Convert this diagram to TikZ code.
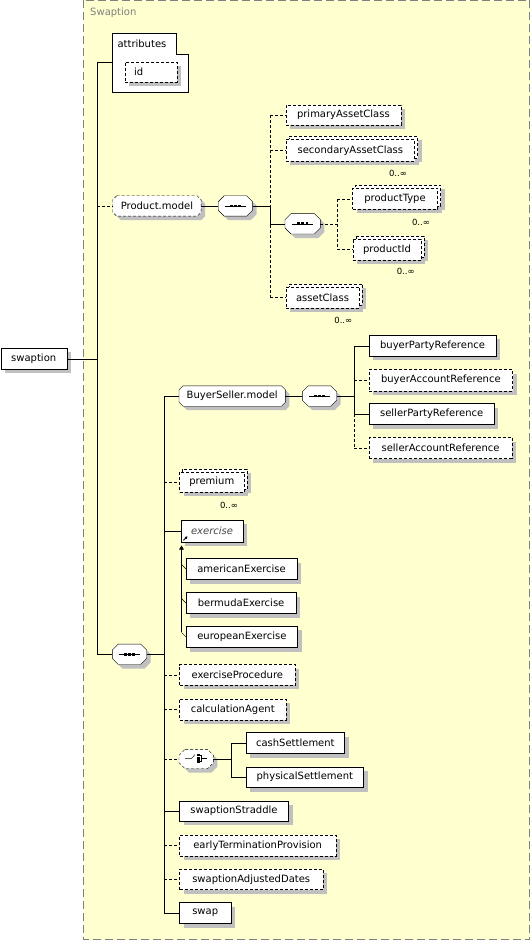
\documentclass[tikz,border=0pt]{standalone}
\usepackage{fontspec}
\setmainfont{DejaVu Sans}
\usetikzlibrary{arrows.meta}
\definecolor{panel}{RGB}{255,255,208}
\definecolor{shad}{RGB}{192,192,192}
\definecolor{frame}{RGB}{128,128,128}
\definecolor{abstr}{RGB}{70,70,70}
\pgfdeclarelayer{bg}
\pgfdeclarelayer{back}
\pgfsetlayers{bg,back,main}
\tikzset{
  txt/.style={font=\fontsize{10pt}{12pt}\selectfont},
  box/.style={draw, fill=white, inner sep=0pt, anchor=north west, txt},
  sh/.style={preaction={fill=shad, transform canvas={shift={(4pt,-4pt)}}}},
  msh/.style={preaction={fill=shad, transform canvas={shift={(4pt,-4pt)}}},
              preaction={fill=shad, transform canvas={shift={(7pt,-1pt)}}},
              preaction={draw, fill=white, dash pattern=on 3pt off 2pt, transform canvas={shift={(3pt,3pt)}}}},
  dpat/.style={dash pattern=on 3pt off 2pt},
  el/.style={box, sh},
  opt/.style={box, sh, dpat},
  mopt/.style={box, msh, dpat},
  sz/.style 2 args={minimum width=#1pt, minimum height=#2pt},
  grp/.style={txt, inner sep=0pt, anchor=center},
  occ/.style={font=\fontsize{8.5pt}{10pt}\selectfont, inner sep=0pt, anchor=center},
  dcon/.style={dpat},
}
% octagon outline behind a named node: name, chamfer, style
\newcommand\octpath[2]{([xshift=#2]#1.north west) -- ([xshift=-#2]#1.north east) -- ([yshift=-#2]#1.north east) -- ([yshift=#2]#1.south east) -- ([xshift=-#2]#1.south east) -- ([xshift=#2]#1.south west) -- ([yshift=#2]#1.south west) -- ([yshift=-#2]#1.north west) -- cycle}
\newcommand\octo[3]{%
  \begin{pgfonlayer}{back}
    \fill[shad, transform canvas={shift={(4pt,-4pt)}}] \octpath{#1}{#2};
    \draw[fill=white, #3] \octpath{#1}{#2};
  \end{pgfonlayer}}
\newcommand\seqsym[1]{%
  \draw ([xshift=-10.5pt]#1.center) -- ([xshift=10.5pt]#1.center);
  \foreach \d in {-4.2,0,4.2} \fill ([xshift=\d pt-1.4pt, yshift=-1.4pt]#1.center) rectangle ++(2.8pt,2.8pt);
}
\begin{document}
\begin{tikzpicture}[x=1pt,y=-1pt,line width=1pt]
\useasboundingbox (0,0) rectangle (530,941);
% panel
\begin{pgfonlayer}{bg}
\draw[frame, dash pattern=on 8pt off 4pt, fill=panel] (83.5,0.5) rectangle (529.5,939.5);
\end{pgfonlayer}
\node[txt, text=frame, anchor=west] (title) at (86.7,13) {Swaption};

% root
\node[el, sz={66}{21}] (swaption) at (0.5,348) {swaption};

% attributes
\draw[fill=white] (112,33) -- (176,33) -- (176,54) -- (188,54) -- (188,92) -- (112,92) -- cycle;
\node[txt, anchor=west] (attrT) at (114,43.5) {attributes};
\coordinate (attrL) at (112,62);
\node[opt, sz={52}{20}, text width=34pt, align=left, inner xsep=9pt] (id) at (125,62) {id};

% Product.model
\node[grp, sz={88}{20}] (pm) at (156.9,206) {Product.model};
\octo{pm}{4pt}{dpat}
\node[grp, sz={34}{20}] (seq1) at (235.4,206) {};
\octo{seq1}{6pt}{}
\seqsym{seq1}
\node[opt, sz={115}{20}] (pac) at (285.7,105) {primaryAssetClass};
\node[mopt, sz={128.3}{21.5}] (sac) at (286,139.3) {secondaryAssetClass};
\node[occ] (o1) at (398,173) {0..∞};
\node[grp, sz={35}{20}] (seq2) at (302.7,223.8) {};
\octo{seq2}{6pt}{}
\seqsym{seq2}
\node[mopt, sz={85}{21}] (pt) at (352.3,188.3) {productType};
\node[occ] (o2) at (421,222.3) {0..∞};
\node[mopt, sz={68.5}{21.5}] (pid) at (352.5,238.5) {productId};
\node[occ] (o3) at (405.7,271.7) {0..∞};
\node[mopt, sz={73.3}{21}] (ac) at (285.7,286.7) {assetClass};
\node[occ] (o4) at (343.3,320) {0..∞};

% BuyerSeller.model
\node[grp, sz={106}{20}] (bsm) at (232.2,396) {BuyerSeller.model};
\octo{bsm}{4pt}{}
\node[grp, sz={34}{20}] (seq3) at (319.5,396) {};
\octo{seq3}{6pt}{}
\seqsym{seq3}
\node[el, sz={126.7}{21}] (bpr) at (369,335) {buyerPartyReference};
\node[opt, sz={143.3}{21.4}] (bar) at (369,369.3) {buyerAccountReference};
\node[el, sz={125}{21}] (spr) at (369,403.3) {sellerPartyReference};
\node[opt, sz={142.7}{21}] (sar) at (369,437.3) {sellerAccountReference};

% second level
\node[mopt, sz={64.5}{20.5}] (prem) at (179.3,471.7) {premium};
\node[occ] (o5) at (229,505) {0..∞};
\node[el, sz={61.7}{21.7}, text=abstr, font=\fontsize{10pt}{12pt}\selectfont\itshape] (ex) at (181,520) {exercise};
\node[el, sz={110.7}{21}] (ame) at (186,558.3) {americanExercise};
\node[el, sz={109.7}{21}] (ber) at (186,592.3) {bermudaExercise};
\node[el, sz={111.3}{21.3}] (eue) at (186,626) {europeanExercise};
\node[grp, sz={34}{20}] (seq4) at (129.5,654.3) {};
\octo{seq4}{6pt}{}
\seqsym{seq4}
\node[opt, sz={115.7}{20.7}] (exp) at (179.3,664.3) {exerciseProcedure};
\node[opt, sz={106.4}{20.8}] (cag) at (179.3,698.7) {calculationAgent};
\node[grp, sz={34}{19}] (choice) at (196.2,759) {};
\octo{choice}{6pt}{dpat}
\node[el, sz={98.3}{21}] (cash) at (246,732.3) {cashSettlement};
\node[el, sz={117.3}{20.6}] (phys) at (246,766.7) {physicalSettlement};
\node[el, sz={109}{20.3}] (str) at (179.3,800.7) {swaptionStraddle};
\node[opt, sz={156.4}{20.7}] (etp) at (179.3,835) {earlyTerminationProvision};
\node[opt, sz={143.4}{20.3}] (sad) at (179.3,869) {swaptionAdjustedDates};
\node[el, sz={51.4}{21}] (swap) at (179.3,902.3) {swap};

% choice symbol
\begin{scope}[shift={(choice.center)}]
  \draw (-11,-0.7) -- (-4.5,-0.7) -- (-1.2,-4.5);
  \foreach \yy in {-4,-0.7,2.6} \fill (0.8,\yy-1.3) rectangle (3.4,\yy+1.3);
  \draw (2.1,-4) -- (4.8,-4) -- (4.8,2.6) -- (2.1,2.6);
  \draw (4.8,-0.7) -- (10.5,-0.7);
\end{scope}

% exercise icon
\draw[-{Triangle[length=2.5pt,width=2.8pt]}, line width=0.9pt] ([xshift=2.5pt,yshift=1.8pt]ex.south west) -- ++(4pt,4pt);

% ---- connectors: main trunk
\coordinate (tA) at (97,62);
\draw (tA) -- (tA |- seq4.west);
\draw (swaption.east) -- (swaption.east -| tA);
\draw (tA) -- (attrL);
\draw[dcon] (tA |- pm.west) -- (pm.west);
\draw (tA |- seq4.west) -- (seq4.west);

% Product.model branch
\draw (pm.east) -- (seq1.west);
\coordinate (b1) at (270,206);
\draw[dcon] (b1 |- pac.west) -- (b1 |- ac.west);
\draw (seq1.east) -- (b1) -- (b1 |- seq2.west) -- (seq2.west);
\draw[dcon] (b1 |- pac.west) -- (pac.west);
\draw[dcon] (b1 |- sac.west) -- (sac.west);
\draw[dcon] (b1 |- ac.west) -- (ac.west);
\coordinate (b2) at (337.3,223.8);
\draw[dcon] (seq2.east) -- (b2 |- seq2.east);
\draw[dcon] (b2 |- pt.west) -- (b2 |- pid.west);
\draw[dcon] (b2 |- pt.west) -- (pt.west);
\draw[dcon] (b2 |- pid.west) -- (pid.west);

% second trunk
\coordinate (t2) at (164.3,396);
\draw (seq4.east) -- (seq4.east -| t2);
\draw (t2) -- (t2 |- swap.west);
\draw (t2) -- (bsm.west);
\draw[dcon] (t2 |- prem.west) -- (prem.west);
\draw (t2 |- ex.west) -- (ex.west);
\draw[dcon] (t2 |- exp.west) -- (exp.west);
\draw[dcon] (t2 |- cag.west) -- (cag.west);
\draw[dcon] (t2 |- choice.west) -- (choice.west);
\draw (t2 |- str.west) -- (str.west);
\draw[dcon] (t2 |- etp.west) -- (etp.west);
\draw[dcon] (t2 |- sad.west) -- (sad.west);
\draw (t2 |- swap.west) -- (swap.west);

% BuyerSeller branch
\draw (bsm.east) -- (seq3.west);
\coordinate (b3) at (354.3,396);
\draw[dcon] (b3 |- spr.west) -- (b3 |- sar.west);
\draw (seq3.east) -- (b3);
\draw (b3 |- bpr.west) -- (b3 |- spr.west);
\draw (b3 |- bpr.west) -- (bpr.west);
\draw[dcon] (b3 |- bar.west) -- (bar.west);
\draw (b3 |- spr.west) -- (spr.west);
\draw[dcon] (b3 |- sar.west) -- (sar.west);

% substitution group of exercise
\coordinate (sa) at (181.5,545.5);
\coordinate (sb) at (181.5,631.5);
\draw[-{Triangle[length=4pt,width=4.5pt]}] (sb) -- (sa);
\draw ([xshift=-4.5pt,yshift=4.5pt]ame.west) -- (ame.west);
\draw ([xshift=-4.5pt,yshift=4.5pt]ber.west) -- (ber.west);
\draw ([xshift=-4.5pt,yshift=4.5pt]eue.west) -- (eue.west);

% choice branch
\coordinate (cx) at (231,759);
\draw (choice.east) -- (cx);
\draw (cx |- cash.west) -- (cx |- phys.west);
\draw (cx |- cash.west) -- (cash.west);
\draw (cx |- phys.west) -- (phys.west);
\end{tikzpicture}
\end{document}
